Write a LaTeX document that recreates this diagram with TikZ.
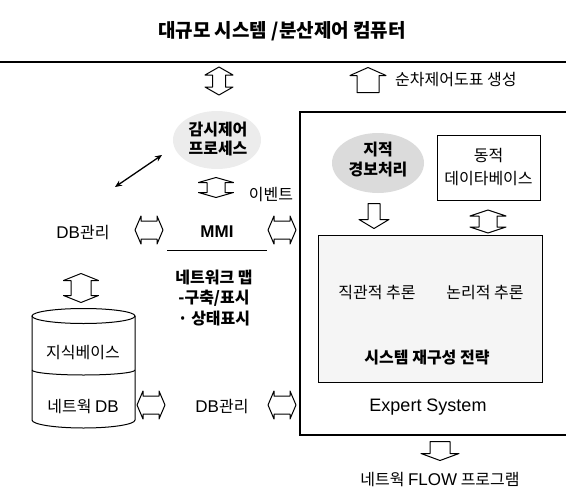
\documentclass[tikz,border=0pt]{standalone}
\usepackage{fontspec}
\setmainfont{Noto Sans CJK KR}
\newfontfamily\lat{Liberation Sans}
\usetikzlibrary{arrows.meta}
\newcommand{\la}[1]{{\lat\fontsize{17}{20}\selectfont #1}}
\tikzset{
  ktxt/.style={font=\fontsize{16}{20}\selectfont, inner sep=0pt},
  kbold/.style={font=\fontsize{16}{20}\selectfont\bfseries, inner sep=0pt},
  titletxt/.style={font=\fontsize{19}{22}\selectfont\bfseries, inner sep=0pt},
  lbold/.style={font=\lat\fontsize{17}{20}\selectfont\bfseries, inner sep=0pt},
  lreg/.style={font=\lat\fontsize{18}{20}\selectfont, inner sep=0pt},
  blk/.style={draw=black, line width=1pt, fill=white, line join=round},
  frame/.style={draw=black, line width=1.1pt},
  pics/vdarr/.style n args={4}{code={
    \draw[blk] (0,{-#1/2}) -- (#2,{-#1/2+#4}) -- (#3,{-#1/2+#4}) -- (#3,{#1/2-#4}) -- (#2,{#1/2-#4}) -- (0,{#1/2})
      -- (-#2,{#1/2-#4}) -- (-#3,{#1/2-#4}) -- (-#3,{-#1/2+#4}) -- (-#2,{-#1/2+#4}) -- cycle;
  }},
  pics/uparr/.style n args={4}{code={
    \draw[blk] (0,{-#1/2}) -- (#2,{-#1/2+#4}) -- (#3,{-#1/2+#4}) -- (#3,{#1/2}) -- (-#3,{#1/2}) -- (-#3,{-#1/2+#4}) -- (-#2,{-#1/2+#4}) -- cycle;
  }},
  pics/dnarr/.style n args={4}{code={
    \draw[blk] (0,{#1/2}) -- (#2,{#1/2-#4}) -- (#3,{#1/2-#4}) -- (#3,{-#1/2}) -- (-#3,{-#1/2}) -- (-#3,{#1/2-#4}) -- (-#2,{#1/2-#4}) -- cycle;
  }},
}
\begin{document}
\begin{tikzpicture}[x=1pt,y=-1pt]
\useasboundingbox (0,0) rectangle (566,499);
% title and top line
\node[titletxt] (title) at (282,31) {대규모 시스템 /분산제어 컴퓨터};
\draw[line width=1.3pt] (0,62) -- (566,62);
\pic at (219,81) {vdarr={28}{14}{6.5}{8}};
\pic at (368,80) {uparr={25}{18}{11}{8}};
\node[ktxt, anchor=west] (seq) at (395,80) {순차제어도표 생성};
% expert system frame
\draw[frame] (566,112) -- (300,112) -- (300,435) -- (566,435);
% left column
\fill[gray!15] (217,140) ellipse[x radius=44, y radius=29];
\node[kbold, align=center, font=\fontsize{16}{19}\selectfont\bfseries] (gamsi) at (218,139) {감시제어\\프로세스};
\coordinate (d1) at (115,187);
\coordinate (d2) at (162,155);
\draw[{Stealth[length=7pt,width=6pt]}-{Stealth[length=7pt,width=6pt]}, line width=1.3pt] (d1) -- (d2);
\pic at (216,187.5) {vdarr={20}{17.5}{9}{5}};
\node[ktxt] (event) at (271,195) {이벤트};
\node[ktxt] (db1) at (83,233) {\la{DB}관리};
\pic[rotate=90] at (149,230) {vdarr={28}{14}{9}{6}};
\node[lbold] (mmi) at (217,232) {MMI};
\draw[line width=1pt] (167,250) -- (267,250);
\pic[rotate=90] at (282,230) {vdarr={28}{14}{9}{6}};
\node[kbold, align=center, font=\fontsize{16}{20.5}\selectfont\bfseries] (netmap) at (214,298) {네트워크 맵\\-구축/표시\\· 상태표시};
\pic at (81,288) {vdarr={29}{17.5}{10}{7}};
% cylinder
\draw[line width=1pt] (32,316) -- (32,420) arc[start angle=180, end angle=0, x radius=51.5, y radius=8] -- (135,316);
\draw[line width=1pt] (83.5,316) ellipse[x radius=51.5, y radius=7.5];
\draw[line width=1pt] (32,370) arc[start angle=180, end angle=0, x radius=51.5, y radius=5];
\node[ktxt] (kb) at (83,353) {지식베이스};
\node[ktxt] (ndb) at (83,407) {네트웍 \la{DB}};
\pic[rotate=90] at (151,405) {vdarr={28}{14}{9}{6}};
\node[ktxt] (db2) at (222,407) {\la{DB}관리};
\pic[rotate=90] at (282,405) {vdarr={28}{14}{9}{6}};
% expert system contents
\fill[gray!28] (378,163) ellipse[x radius=46, y radius=30];
\node[kbold, align=center] (jijeok) at (378,160) {지적\\경보처리};
\node[draw, line width=1pt, minimum width=103pt, minimum height=65pt, inner sep=0pt] (dynbox) at (488.5,167.5) {};
\node[ktxt, align=center, font=\fontsize{16}{23}\selectfont] (dyn) at (dynbox.center) {동적\\데이타베이스};
\pic at (374,216) {dnarr={25}{15}{6}{9}};
\pic at (488,221.5) {vdarr={23}{18}{9}{6}};
\node[draw, fill=gray!8, line width=1pt, minimum width=224pt, minimum height=147pt, inner sep=0pt] (inner) at (430,308.5) {};
\node[ktxt] (jikgwan) at (377,293) {직관적 추론};
\node[ktxt] (nonri) at (485,293) {논리적 추론};
\node[kbold] (strat) at (427,358) {시스템 재구성 전략};
\node[lreg] (es) at (428,407) {Expert System};
\pic at (440,451) {dnarr={19}{19}{10}{7}};
\node[ktxt] (flow) at (440,480) {네트웍 \la{FLOW} 프로그램};
\end{tikzpicture}
\end{document}
